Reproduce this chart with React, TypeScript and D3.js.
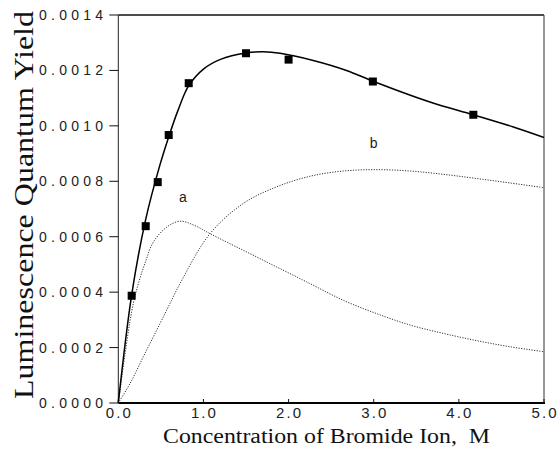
import React from "react";
import * as d3 from "d3";

const xTicks = [0, 1, 2, 3, 4, 5];
const yTicks = [0, 0.0002, 0.0004, 0.0006, 0.0008, 0.001, 0.0012, 0.0014];

const pointsX = [0.157, 0.322, 0.463, 0.592, 0.827, 1.5, 2.0, 2.99, 4.17];
const pointsY = [0.000387, 0.000638, 0.000797, 0.000967, 0.001154, 0.001262, 0.001239, 0.00116, 0.00104];

const totalX = [0, 0.157, 0.32, 0.49, 0.592, 0.7, 0.827, 1.0, 1.2, 1.5, 1.7, 1.9, 2.29, 2.68, 3.0, 3.66, 4.17, 4.64, 5.0];
const totalY = [0, 0.00039, 0.00066, 0.00086, 0.00096, 0.001055, 0.001145, 0.001205, 0.00124, 0.001263, 0.001267, 0.001262, 0.001236, 0.0012, 0.00116, 0.001086, 0.00104, 0.000996, 0.000958];

const aX = [0, 0.157, 0.235, 0.32, 0.41, 0.57, 0.725, 0.9, 1.077, 1.468, 1.86, 2.25, 2.64, 3.03, 3.43, 3.82, 4.21, 4.6, 5.0];
const aY = [0, 0.00033, 0.00043, 0.00051, 0.00058, 0.000635, 0.000656, 0.00064, 0.000611, 0.000551, 0.000491, 0.000431, 0.000371, 0.000323, 0.000281, 0.000251, 0.000225, 0.000203, 0.000185];

const bX = [0, 0.137, 0.294, 0.49, 0.607, 0.725, 1.077, 1.468, 1.86, 2.25, 2.64, 3.03, 3.43, 3.82, 4.21, 4.6, 5.0];
const bY = [0, 0.00007, 0.000167, 0.000287, 0.000359, 0.000431, 0.000611, 0.00072, 0.00078, 0.000818, 0.000837, 0.000842, 0.000837, 0.000825, 0.00081, 0.000794, 0.000777];

const labels = [
  { text: "a", x: 0.76, y: 0.000725 },
  { text: "b", x: 3.0, y: 0.00092 },
];

export default function App() {
  const left = 118.3, right = 544, top = 15, bottom = 403;
  const x = d3.scaleLinear().domain([0, 5]).range([left, right]);
  const y = d3.scaleLinear().domain([0, 0.0014]).range([bottom, top]);

  const mk = (xs: number[], ys: number[]) =>
    d3
      .line<number>()
      .x((_, i) => x(xs[i]))
      .y((_, i) => y(ys[i]))
      .curve(d3.curveCatmullRom.alpha(0.5))(xs.map((v) => v)) as string;

  const sans = "'Liberation Sans', Arial, sans-serif";
  const serif = "'Liberation Serif', 'Times New Roman', serif";

  return (
    <svg
      width={558}
      height={462}
      style={{ position: "absolute", left: 0, top: 0, background: "#fff" }}
    >
      {/* frame */}
      <line x1={left} x2={right} y1={top} y2={top} stroke="#111" strokeWidth={1.5} />
      <line x1={right} x2={right} y1={top} y2={bottom} stroke="#333" strokeWidth={1} />
      <line x1={left} x2={left} y1={top} y2={bottom} stroke="#222" strokeWidth={1} />
      <line x1={left} x2={right + 1} y1={bottom} y2={bottom} stroke="#000" strokeWidth={2} />

      {/* y ticks */}
      {yTicks.map((t) => (
        <g key={"y" + t}>
          <line x1={left - 9} x2={left} y1={y(t)} y2={y(t)} stroke="#111" strokeWidth={1} />
          <text
            x={103}
            y={y(t) + 5}
            textAnchor="end"
            fontFamily={sans}
            fontSize={14}
            fill="#222"
            textLength={64}
            lengthAdjust="spacing"
          >
            {t.toFixed(4)}
          </text>
        </g>
      ))}

      {/* x ticks */}
      {xTicks.map((t) => (
        <g key={"x" + t}>
          <line x1={x(t)} x2={x(t)} y1={bottom} y2={bottom - 4} stroke="#111" strokeWidth={1} />
          <text
            x={x(t)}
            y={418}
            textAnchor="middle"
            fontFamily={sans}
            fontSize={15}
            fill="#222"
            textLength={25}
            lengthAdjust="spacing"
          >
            {t.toFixed(1)}
          </text>
        </g>
      ))}

      {/* curves */}
      <path d={mk(bX, bY)} fill="none" stroke="#333" strokeWidth={1} strokeDasharray="1.2 1.4" />
      <path d={mk(aX, aY)} fill="none" stroke="#333" strokeWidth={1} strokeDasharray="1.2 1.4" />
      <path d={mk(totalX, totalY)} fill="none" stroke="#000" strokeWidth={1.5} />

      {pointsX.map((px, i) => (
        <rect
          key={"p" + i}
          x={x(px) - 4}
          y={y(pointsY[i]) - 4}
          width={8}
          height={8}
          fill="#000"
        />
      ))}

      {labels.map((l) => (
        <text
          key={l.text}
          x={x(l.x)}
          y={y(l.y)}
          textAnchor="middle"
          fontFamily={sans}
          fontSize={14}
          fill="#222"
        >
          {l.text}
        </text>
      ))}

      {/* axis titles */}
      <text
        x={326.5}
        y={443}
        textAnchor="middle"
        fontFamily={serif}
        fontSize={20}
        fill="#111"
        textLength={327}
        lengthAdjust="spacingAndGlyphs"
        style={{ whiteSpace: "pre" }}
      >
        {"Concentration of Bromide Ion,  M"}
      </text>
      <text
        transform="translate(33,205) rotate(-90)"
        textAnchor="middle"
        fontFamily={serif}
        fontSize={28}
        fill="#111"
        textLength={388}
        lengthAdjust="spacingAndGlyphs"
      >
        Luminescence Quantum Yield
      </text>
    </svg>
  );
}
